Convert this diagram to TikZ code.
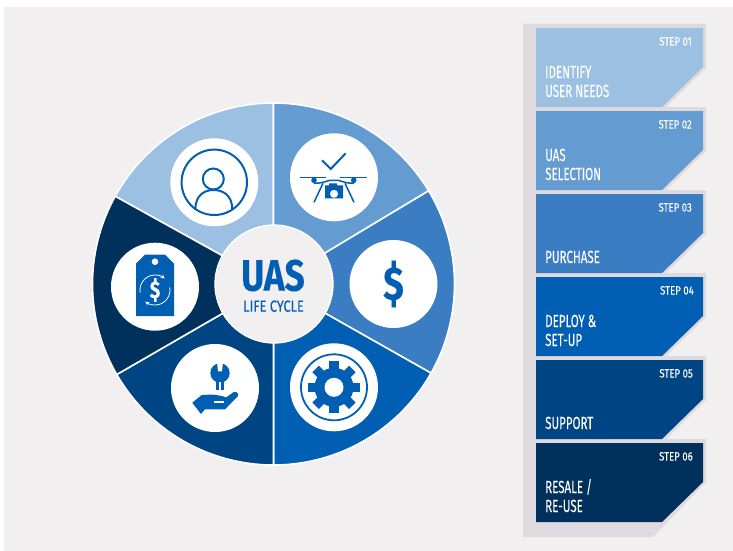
\documentclass[tikz,border=0pt]{standalone}
\usepackage{fontspec}
\setmainfont[FakeStretch=0.66, FakeBold=0.12]{Fira Sans}
\newfontfamily\widefont[FakeStretch=0.8, FakeBold=0.12]{Fira Sans}
\definecolor{panelgray}{HTML}{F1EFF0}
\definecolor{shadowgray}{HTML}{DFDADD}
\definecolor{iconblue}{HTML}{005EB3}
\definecolor{lifeone}{HTML}{9BC0E2}
\definecolor{lifetwo}{HTML}{649BD1}
\definecolor{lifethree}{HTML}{3A7DC2}
\definecolor{lifefour}{HTML}{005EB3}
\definecolor{lifefive}{HTML}{004583}
\definecolor{lifesix}{HTML}{00305C}
\newcommand{\pxfont}[1]{\fontsize{#1}{#1}\selectfont}
\tikzset{
    wedgepart/.style={draw=white, line width=1.6pt},
    iconcircle/.style={circle, fill=white, minimum size=88pt, inner sep=0pt},
    stepnum/.style={anchor=base east, inner sep=0pt, text=white, font=\widefont\pxfont{12}},
    steptext/.style={anchor=base west, inner sep=0pt, text=white, font=\pxfont{17.5}}
}
\begin{document}
\begin{tikzpicture}[x=1pt, y=-1pt]
    \useasboundingbox (0,0) rectangle (733,551);
    \fill[white] (0,0) rectangle (733,551);
    \fill[panelgray] (4,7) rectangle (733,551);

    % Wheel
    \begin{scope}[shift={(273.5,284)}, y=1pt]
        \draw[wedgepart, fill=lifeone] (0,0) -- (151:181) arc[start angle=151, end angle=90, radius=181] -- cycle;
        \draw[wedgepart, fill=lifetwo] (0,0) -- (90:181) arc[start angle=90, end angle=31, radius=181] -- cycle;
        \draw[wedgepart, fill=lifethree] (0,0) -- (31:181) arc[start angle=31, end angle=-29.5, radius=181] -- cycle;
        \draw[wedgepart, fill=lifefour] (0,0) -- (-29.5:181) arc[start angle=-29.5, end angle=-90, radius=181] -- cycle;
        \draw[wedgepart, fill=lifefive] (0,0) -- (-90:181) arc[start angle=-90, end angle=-150, radius=181] -- cycle;
        \draw[wedgepart, fill=lifesix] (0,0) -- (-150:181) arc[start angle=-150, end angle=-209, radius=181] -- cycle;
    \end{scope}
    \node[circle, fill=panelgray, draw=white, line width=1.3pt, minimum size=118pt, inner sep=0pt] (hub) at (274,284) {};
    \node[anchor=base, inner sep=0pt, text=iconblue, font=\widefont\pxfont{44}\bfseries] (uas) at (273,290.7) {UAS};
    \node[anchor=base, inner sep=0pt, text=iconblue, font=\widefont\pxfont{16}] (cycle) at (273.5,311.7) {LIFE CYCLE};

    \node[iconcircle] (usercircle) at (214.3,182.3) {};
    \node[iconcircle] (dronecircle) at (334,177.3) {};
    \node[iconcircle] (dollarcircle) at (393.5,284) {};
    \node[iconcircle] (gearcircle) at (334,387.3) {};
    \node[iconcircle] (handcircle) at (215,388) {};
    \node[iconcircle] (tagcircle) at (155,286.7) {};

    % User icon
    \begin{scope}[shift={(usercircle.center)}, iconblue, line width=2pt]
        \draw (0,0) circle[radius=32.7];
        \draw (-1,-3.3) circle[radius=10.5];
        \draw (-19,27.5) .. controls (-19,13) and (-10,7.7) .. (-1,7.7) .. controls (9,7.7) and (18,13) .. (18,27.5);
    \end{scope}

    % Drone icon
    \begin{scope}[shift={(dronecircle.center)}, iconblue]
        \draw[line width=2pt] (-12,-17) -- (-3.3,-8.3) -- (11.7,-24);
        \draw[line width=1.6pt] (-33.7,0) -- (-7.7,0);
        \draw[line width=1.6pt] (6.3,0) -- (33,0);
        \fill (-20,3) circle[radius=2.8];
        \fill (19.7,3) circle[radius=2.8];
        \draw[line width=1.5pt] (-20,6) .. controls (-12,6) and (-8,4) .. (-4,3) -- (4,3) .. controls (8,4) and (12,6) .. (20,6);
        \draw[line width=1.5pt] (-11,6) -- (-20,25);
        \draw[line width=1.5pt] (11,6) -- (20,25);
        \fill (-9,8) -- (-5,8) -- (-5,6) -- (3,6) -- (3,8) -- (9,8) -- (9,21) -- (-9,21) -- cycle;
        \fill[white] (0,16.5) circle[radius=4];
    \end{scope}

    % Dollar icon
    \node[anchor=center, inner sep=0pt, text=iconblue, font=\widefont\pxfont{47}\bfseries] (dollar) at (dollarcircle.center) {\$};

    % Gear icon
    \begin{scope}[shift={(gearcircle.center)}, iconblue]
        \draw[line width=1.8pt] (0,0) circle[radius=33];
        \fill (0,0) circle[radius=19.5];
        \foreach \a in {0,45,...,315}
            \fill[rotate=\a] (-4.6,-26) rectangle (4.6,-16);
        \fill[white] (0,0) circle[radius=9.5];
    \end{scope}

    % Wrench in hand icon
    \begin{scope}[shift={(handcircle.center)}, iconblue]
        \fill (5,-15) circle[radius=9.7];
        \fill[white] (2,-26) -- (8,-26) -- (7,-16.7) -- (3,-16.7) -- cycle;
        \fill (0.7,-9) rectangle (9,1.7);
        \fill[white] (4.2,-6) rectangle (5.8,2);
        \fill (-22.7,14.7) -- (-13.3,7) -- (-2,6.5) -- (7,8) -- (11,9.5) -- (18.5,4.2)
            .. controls (21,3) and (24,5) .. (23,8) -- (10,21.3) -- (-10,21.3) -- (-14,26) -- cycle;
        \fill[white] (-0.7,13.2) rectangle (9,14.8);
    \end{scope}

    % Price tag icon
    \begin{scope}[shift={(tagcircle.center)}]
        \fill[iconblue] (-10,-32) -- (10,-32) -- (19,-23) -- (19,29.3) -- (-19,29.3) -- (-19,-23) -- cycle;
        \fill[white] (0,-25) circle[radius=3.3];
        \node[anchor=center, inner sep=0pt, text=white, font=\widefont\pxfont{24}\bfseries] (tagdollar) at (0,3.3) {\$};
        \begin{scope}[shift={(0,3.3)}, y=1pt, white, line width=0.8pt]
            \draw[-stealth] (190:15) arc[start angle=190, end angle=50, radius=15];
            \draw[-stealth] (10:15) arc[start angle=10, end angle=-130, radius=15];
        \end{scope}
    \end{scope}

    % Step shadows
    \fill[shadowgray] (523,24) -- (706,24) -- (706,68) -- (666,107) -- (706,107) -- (706,151) -- (666,190)
        -- (706,190) -- (706,234) -- (666,273) -- (706,273) -- (706,317) -- (666,356) -- (706,356) -- (706,400)
        -- (666,439) -- (706,439) -- (706,482) -- (653,537) -- (523,537) -- cycle;

    % Step 01
    \begin{scope}[yshift=0pt]
        \fill[lifeone] (536,28) -- (703,28) -- (703,67) -- (662,107) -- (536,107) -- cycle;
        \node[stepnum] (numone) at (692,45.5) {STEP 01};
        \node[steptext] (textonea) at (545,78) {IDENTIFY};
        \node[steptext] (textoneb) at (545,97) {USER NEEDS};
    \end{scope}

    % Step 02
    \begin{scope}[yshift=-83pt]
        \fill[lifetwo] (536,28) -- (703,28) -- (703,67) -- (662,107) -- (536,107) -- cycle;
        \node[stepnum] (numtwo) at (692,45.5) {STEP 02};
        \node[steptext] (texttwoa) at (545,78) {UAS};
        \node[steptext] (texttwob) at (545,97) {SELECTION};
    \end{scope}

    % Step 03
    \begin{scope}[yshift=-166pt]
        \fill[lifethree] (536,28) -- (703,28) -- (703,67) -- (662,107) -- (536,107) -- cycle;
        \node[stepnum] (numthree) at (692,45.5) {STEP 03};
        \node[steptext] (textthree) at (545,97) {PURCHASE};
    \end{scope}

    % Step 04
    \begin{scope}[yshift=-249pt]
        \fill[lifefour] (536,28) -- (703,28) -- (703,67) -- (662,107) -- (536,107) -- cycle;
        \node[stepnum] (numfour) at (694,45.5) {STEP 04};
        \node[steptext] (textfoura) at (545,78) {DEPLOY \&};
        \node[steptext] (textfourb) at (545,97) {SET-UP};
    \end{scope}

    % Step 05
    \begin{scope}[yshift=-332pt]
        \fill[lifefive] (536,28) -- (703,28) -- (703,67) -- (662,107) -- (536,107) -- cycle;
        \node[stepnum] (numfive) at (693,45.5) {STEP 05};
        \node[steptext] (textfive) at (545,97) {SUPPORT};
    \end{scope}

    % Step 06
    \begin{scope}[yshift=-415pt]
        \fill[lifesix] (536,28) -- (703,28) -- (703,67) -- (662,107) -- (536,107) -- cycle;
        \node[stepnum] (numsix) at (693,45.5) {STEP 06};
        \node[steptext] (textsixa) at (545,78) {RESALE /};
        \node[steptext] (textsixb) at (545,97) {RE-USE};
    \end{scope}
\end{tikzpicture}
\end{document}
